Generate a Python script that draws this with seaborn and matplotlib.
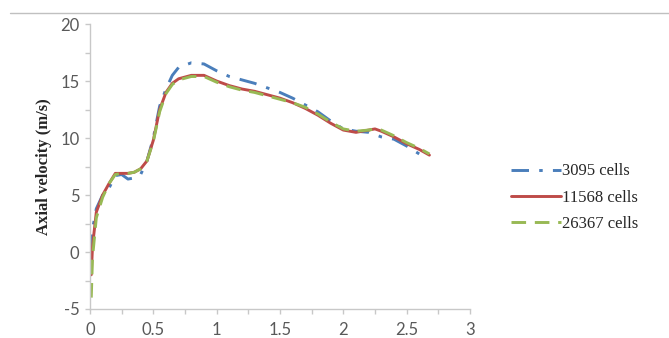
import matplotlib
matplotlib.use("Agg")
import matplotlib.pyplot as plt
from matplotlib.lines import Line2D
from matplotlib.ticker import MultipleLocator
import pandas as pd
import seaborn as sns

# distance along axis (m)
x = [0.01, 0.02, 0.05, 0.10, 0.15, 0.20, 0.25, 0.30, 0.35, 0.40, 0.45, 0.50, 0.55,
     0.60, 0.65, 0.70, 0.80, 0.90, 1.00, 1.10, 1.20, 1.30, 1.40, 1.50, 1.60, 1.70,
     1.80, 1.90, 2.00, 2.10, 2.20, 2.25, 2.30, 2.40, 2.50, 2.60, 2.68]

v_3095 = [0.0, 2.0, 3.8, 5.0, 5.6, 6.7, 6.8, 6.4, 6.5, 6.8, 8.0, 10.0, 12.8,
          14.3, 15.5, 16.2, 16.6, 16.5, 15.9, 15.4, 15.1, 14.8, 14.4, 14.0, 13.5, 12.9,
          12.3, 11.5, 10.8, 10.6, 10.5, 10.3, 10.1, 9.9, 9.3, 8.6, None]

v_11568 = [-2.0, 0.5, 3.5, 5.0, 6.0, 6.9, 6.9, 6.9, 7.0, 7.3, 8.0, 9.8, 12.5,
           14.0, 14.8, 15.2, 15.5, 15.5, 15.0, 14.6, 14.3, 14.1, 13.8, 13.5, 13.1, 12.6,
           12.0, 11.3, 10.7, 10.5, 10.7, 10.8, 10.6, 10.1, 9.5, 9.0, 8.5]

v_26367 = [-4.0, -0.5, 3.0, 4.8, 6.0, 6.8, 6.9, 6.9, 7.0, 7.3, 8.0, 9.7, 12.3,
           13.9, 14.7, 15.1, 15.4, 15.4, 14.9, 14.5, 14.2, 14.0, 13.7, 13.4, 13.1, 12.7,
           12.1, 11.4, 10.8, 10.6, 10.7, 10.8, 10.7, 10.2, 9.6, 9.1, 8.6]

labels = ["3095 cells", "11568 cells", "26367 cells"]
colors = ["#4a7ebb", "#be4b48", "#98b954"]
styles = [(0, (6, 3.5, 1.2, 3.5)), "-", (0, (5, 3))]

x_ticks = [0, 0.5, 1, 1.5, 2, 2.5, 3]
x_ticklabels = ["0", "0.5", "1", "1.5", "2", "2.5", "3"]
y_ticks = [-5, 0, 5, 10, 15, 20]
y_ticklabels = ["-5", "0", "5", "10", "15", "20"]

sns.set_style("white")
# serif for the axis title and legend, sans for tick numbers (set below)
plt.rcParams["font.family"] = ["Liberation Serif", "DejaVu Serif"]
plt.rcParams["axes.unicode_minus"] = False

fig = plt.figure(figsize=(6.69, 3.38), dpi=100)
ax = fig.add_axes([0.1345, 0.0858, 0.568, 0.843])

for vals, lab, col, ls in zip([v_3095, v_11568, v_26367], labels, colors, styles):
    df = pd.DataFrame({"x": x, "v": vals}).dropna()
    sns.lineplot(data=df, x="x", y="v", ax=ax, color=col, linewidth=2.1,
                 linestyle=ls, label=lab)

ax.set_xlim(0, 3)
ax.set_ylim(-5, 20)
ax.set_xticks(x_ticks, x_ticklabels, fontfamily="Lato", fontsize=12, color="#595959")
ax.set_yticks(y_ticks, y_ticklabels, fontfamily="Lato", fontsize=12, color="#595959")
ax.xaxis.set_minor_locator(MultipleLocator(0.25))
ax.yaxis.set_minor_locator(MultipleLocator(2.5))

for side in ["top", "right"]:
    ax.spines[side].set_visible(False)
for side in ["left", "bottom"]:
    ax.spines[side].set_color("#c8c8c8")
    ax.spines[side].set_linewidth(1.0)

ax.tick_params(axis="both", which="both", direction="out", color="#c8c8c8",
               bottom=True, left=True, length=3.5, width=1)
ax.tick_params(axis="x", which="major", pad=6)
ax.tick_params(axis="y", which="major", pad=4)

ax.set_xlabel("")
ax.set_ylabel("Axial velocity (m/s)", fontsize=12, fontweight="bold",
              color="#262626", labelpad=6)

leg = ax.legend(loc="center left", bbox_to_anchor=(0.742, 0.415),
                bbox_transform=fig.transFigure, frameon=False,
                handlelength=3.0, handletextpad=0.05, labelspacing=0.62,
                fontsize=12)
for t in leg.get_texts():
    t.set_color("#262626")

# thin gray rule along the top of the picture
fig.add_artist(Line2D([0.015, 1.0], [0.962, 0.962], color="#c0c0c0",
                      linewidth=1.0, transform=fig.transFigure))

plt.savefig("out.png", dpi=100)
plt.close()
